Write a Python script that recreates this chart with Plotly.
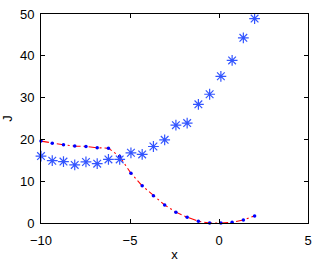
import plotly.graph_objects as go

x_vals = [-10.0, -9.368, -8.737, -8.105, -7.474, -6.842, -6.211, -5.579, -4.947, -4.316,
          -3.684, -3.053, -2.421, -1.789, -1.158, -0.526, 0.105, 0.737, 1.368, 2.0]
j_stars = [16.0, 14.9, 14.7, 13.9, 14.6, 14.2, 15.2, 15.2, 16.8, 16.4,
           18.3, 19.9, 23.4, 23.9, 28.4, 30.8, 35.1, 38.9, 44.3, 48.9]
j_dots = [19.6, 19.1, 18.7, 18.4, 18.3, 18.0, 17.9, 15.9, 11.9, 8.9,
          6.5, 4.3, 2.6, 1.4, 0.4, 0.0, 0.0, 0.2, 0.7, 1.7]

x_ticks = [-10, -5, 0, 5]
y_ticks = [0, 10, 20, 30, 40, 50]

fig = go.Figure()
fig.add_trace(go.Scatter(
    x=x_vals, y=j_dots, mode="lines",
    line=dict(color="#ff0000", width=1.1, dash="8px,3px,2px,3px"),
    cliponaxis=False, showlegend=False))
fig.add_trace(go.Scatter(
    x=x_vals, y=j_dots, mode="markers",
    marker=dict(symbol="circle", size=3.5, color="#0000ff"),
    cliponaxis=False, showlegend=False))
fig.add_trace(go.Scatter(
    x=x_vals, y=j_stars, mode="markers",
    marker=dict(symbol="asterisk-open", size=9, color="#3355ff",
                line=dict(color="#3355ff", width=1.2)),
    cliponaxis=False, showlegend=False))

axis_common = dict(showline=True, linecolor="black", linewidth=1, mirror="ticks",
                   ticks="inside", ticklen=4, tickcolor="black", showgrid=False,
                   zeroline=False, tickfont=dict(size=13, color="black"),
                   automargin=False)

fig.update_layout(
    width=317, height=262,
    margin=dict(l=41, r=9, t=14, b=39),
    paper_bgcolor="white", plot_bgcolor="white",
    font=dict(family="Liberation Sans, Arial, sans-serif", size=13, color="black"),
    xaxis=dict(range=[-10, 5], tickvals=x_ticks, ticktext=["\u221210", "\u22125", "0", "5"],
               ticklabelstandoff=5,
               title=dict(text="x", standoff=5, font=dict(size=13)), **axis_common),
    yaxis=dict(range=[0, 50], tickvals=y_ticks, ticklabelstandoff=3,
               title=dict(text="J", standoff=10, font=dict(size=13)), **axis_common),
)

fig.write_html("out.html", config={"displayModeBar": False},
               post_script="document.body.style.margin='0';")
